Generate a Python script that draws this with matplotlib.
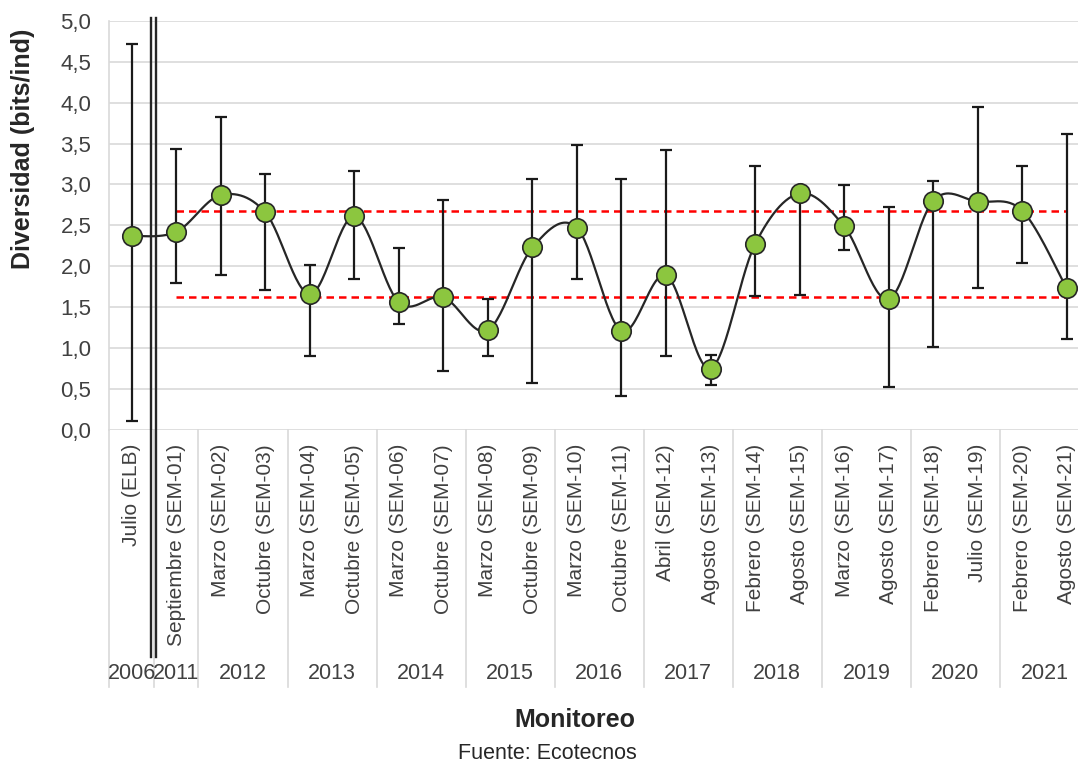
import numpy as np
import matplotlib.pyplot as plt

plt.rcParams['font.family'] = ['Liberation Sans', 'DejaVu Sans']

# campaign labels (x axis), grouped by year
campaigns = ['Julio (ELB)', 'Septiembre (SEM-01)', 'Marzo (SEM-02)', 'Octubre (SEM-03)',
             'Marzo (SEM-04)', 'Octubre (SEM-05)', 'Marzo (SEM-06)', 'Octubre (SEM-07)',
             'Marzo (SEM-08)', 'Octubre (SEM-09)', 'Marzo (SEM-10)', 'Octubre (SEM-11)',
             'Abril (SEM-12)', 'Agosto (SEM-13)', 'Febrero (SEM-14)', 'Agosto (SEM-15)',
             'Marzo (SEM-16)', 'Agosto (SEM-17)', 'Febrero (SEM-18)', 'Julio (SEM-19)',
             'Febrero (SEM-20)', 'Agosto (SEM-21)']
years = ['2006', '2011', '2012', '2013', '2014', '2015', '2016', '2017', '2018', '2019', '2020', '2021']
year_sizes = [1, 1, 2, 2, 2, 2, 2, 2, 2, 2, 2, 2]

# mean diversity and min / max range
diversity = [2.37, 2.42, 2.87, 2.66, 1.66, 2.61, 1.56, 1.62, 1.22, 2.23, 2.47, 1.21,
             1.89, 0.75, 2.27, 2.89, 2.49, 1.60, 2.80, 2.79, 2.68, 1.73]
div_max = [4.71, 3.43, 3.82, 3.13, 2.02, 3.16, 2.22, 2.81, 1.60, 3.07, 3.48, 3.07,
           3.42, 0.92, 3.23, 2.96, 2.99, 2.72, 3.04, 3.94, 3.23, 3.62]
div_min = [0.11, 1.80, 1.89, 1.71, 0.91, 1.85, 1.30, 0.72, 0.91, 0.58, 1.85, 0.42,
           0.90, 0.55, 1.64, 1.65, 2.20, 0.53, 1.02, 1.74, 2.04, 1.11]

# reference band (SEM campaigns)
upper_ref = 2.67
lower_ref = 1.63

x = np.arange(len(campaigns))
y = np.array(diversity)
err = [y - np.array(div_min), np.array(div_max) - y]


def smooth_curve(xs, ys, n=30):
    # Catmull-Rom style bezier smoothing, like Excel's smoothed line
    px = np.concatenate([[xs[0]], xs, [xs[-1]]])
    py = np.concatenate([[ys[0]], ys, [ys[-1]]])
    t = np.linspace(0, 1, n)
    out_x, out_y = [], []
    for i in range(1, len(px) - 2):
        p0 = np.array([px[i], py[i]])
        p3 = np.array([px[i + 1], py[i + 1]])
        p1 = p0 + (p3 - np.array([px[i - 1], py[i - 1]])) / 6
        p2 = p3 - (np.array([px[i + 2], py[i + 2]]) - p0) / 6
        b = ((1 - t) ** 3)[:, None] * p0 + (3 * (1 - t) ** 2 * t)[:, None] * p1 \
            + (3 * (1 - t) * t ** 2)[:, None] * p2 + (t ** 3)[:, None] * p3
        out_x.extend(b[:, 0])
        out_y.extend(b[:, 1])
    return np.array(out_x), np.array(out_y)


fig = plt.figure(figsize=(10.78, 7.65), dpi=100)
ax = fig.add_axes([0.1015, 0.4379, 0.9087, 0.535])

# grid
ax.set_ylim(0, 5)
ax.set_xlim(-0.5, len(campaigns) - 0.5)
yt = np.arange(0, 5.01, 0.5)
ax.set_yticks(yt)
ax.set_yticklabels([f'{v:.1f}'.replace('.', ',') for v in yt], fontsize=16, color='#404040')
ax.yaxis.grid(True, color='#d9d9d9', lw=1.2)
ax.set_axisbelow(True)
for s in ['top', 'right', 'bottom']:
    ax.spines[s].set_visible(False)
ax.spines['left'].set_color('#d9d9d9')
ax.spines['left'].set_linewidth(1.2)
ax.tick_params(axis='y', length=0, pad=13)
ax.tick_params(axis='x', length=0, pad=10)
ax.set_xticks(x)
ax.set_xticklabels(campaigns, rotation=90, va='top', ha='center', fontsize=15, color='#404040')

# reference lines
ax.plot([x[1], x[-1]], [upper_ref, upper_ref], color='#ff0000', lw=1.8, dashes=(3, 2), zorder=2)
ax.plot([x[1], x[-1]], [lower_ref, lower_ref], color='#ff0000', lw=1.8, dashes=(3, 2), zorder=2)

# smoothed line + error bars + markers
sx, sy = smooth_curve(x.astype(float), y)
ax.plot(sx, sy, color='#262626', lw=1.6, zorder=3)
ax.errorbar(x, y, yerr=err, fmt='none', ecolor='#1a1a1a', elinewidth=1.6,
            capsize=4, capthick=1.6, zorder=4)
ax.plot(x, y, 'o', ms=14, mfc='#8cc63f', mec='#262626', mew=1.2, zorder=5)

# category separators under the axis
bounds = np.cumsum([0] + year_sizes) - 0.5
for b in bounds[:-1]:
    ax.axvline(b, ymin=-0.628, ymax=0, color='#d9d9d9', lw=1.2, clip_on=False)

# year labels
start = 0
for yr, n in zip(years, year_sizes):
    ax.text(start + (n - 1) / 2, -0.594, yr, transform=ax.get_xaxis_transform(),
            ha='center', va='center', fontsize=15.5, color='#404040')
    start += n

# double break line between 2006 and 2011
for off in (-0.055, 0.055):
    ax.axvline(0.5 + off, ymin=-0.554, ymax=1.007, color='#262626', lw=1.7, clip_on=False, zorder=6)

fig.text(0.021, 0.806, 'Diversidad (bits/ind)', rotation=90, ha='center', va='center',
         fontsize=18, fontweight='bold', color='#262626')
fig.text(0.533, 0.0588, 'Monitoreo', ha='center', va='center', fontsize=18,
         fontweight='bold', color='#262626')
fig.text(0.508, 0.0144, 'Fuente: Ecotecnos', ha='center', va='center', fontsize=15.5,
         color='#262626')

fig.savefig('out.png', dpi=100)
